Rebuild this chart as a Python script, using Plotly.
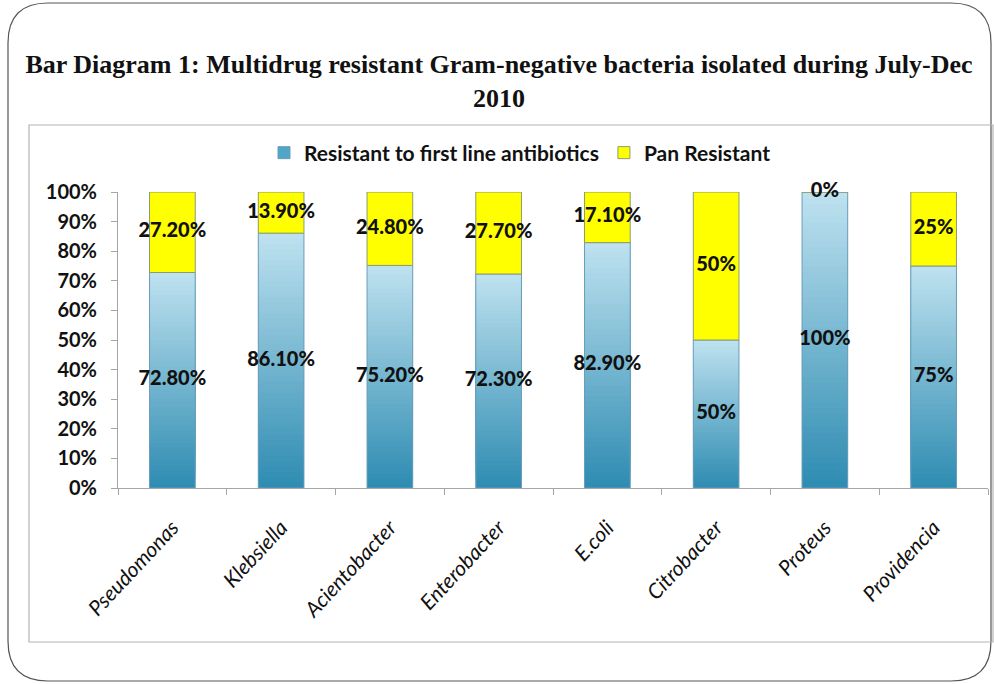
import plotly.graph_objects as go

# ---- data ----
organisms = ["Pseudomonas", "Klebsiella", "Acientobacter", "Enterobacter",
             "E.coli", "Citrobacter", "Proteus", "Providencia"]
first_line = [72.8, 86.1, 75.2, 72.3, 82.9, 50, 100, 75]
pan_resistant = [27.2, 13.9, 24.8, 27.7, 17.1, 50, 0, 25]
y_ticks = [0, 10, 20, 30, 40, 50, 60, 70, 80, 90, 100]

W, H = 994, 684
PL, PR, PT, PB = 118, 988, 192, 488  # plot area in pixels


def px(x):
    return (x - PL) / (PR - PL)


def py(y):
    return (PB - y) / (PB - PT)


def fmt(v):
    return f"{v:.0f}%" if float(v).is_integer() else f"{v:.2f}%"


def lerp(c1, c2, t):
    return "#%02x%02x%02x" % tuple(round(a + (b - a) * t) for a, b in zip(c1, c2))


DARK = (0x2f, 0x8c, 0xb2)
LIGHT = (0xbd, 0xe1, 0xef)
BAR_W = 0.42
N = 48

fig = go.Figure()

# vertical gradient fill of the blue segments: each layer starts higher and
# runs to the top of the segment, so later (lighter) layers cover the upper part
for k in range(N):
    fig.add_trace(go.Bar(
        x=organisms,
        y=[v * (N - k) / N for v in first_line],
        base=[v * k / N for v in first_line],
        width=BAR_W,
        marker=dict(color=lerp(DARK, LIGHT, k / (N - 1)), line=dict(width=0)),
        showlegend=False, hoverinfo="skip",
    ))

# outline of the blue segments
fig.add_trace(go.Bar(
    x=organisms, y=first_line, base=[0] * len(organisms), width=BAR_W,
    marker=dict(color="rgba(0,0,0,0)", line=dict(color="#6b9dbb", width=1)),
    showlegend=False, name="Resistant to first line antibiotics",
))

# legend entry for the blue series
fig.add_trace(go.Bar(
    x=[organisms[0]], y=[None], name="Resistant to first line antibiotics",
    marker=dict(color="#4fa6c8", line=dict(color="#6b9dbb", width=1)),
))

fig.add_trace(go.Bar(
    x=organisms, y=pan_resistant, base=first_line, width=BAR_W,
    name="Pan Resistant",
    marker=dict(color="#ffff00", line=dict(color="#8c9c6c", width=1)),
))

label_font = dict(family="Lato", size=20, color="#111111", weight=900)

# data labels at the middle of each segment
fig.add_trace(go.Scatter(
    x=organisms, y=[v / 2 for v in first_line], mode="text",
    text=[fmt(v) for v in first_line], textposition="middle center",
    textfont=label_font, showlegend=False, cliponaxis=False, hoverinfo="skip",
))
fig.add_trace(go.Scatter(
    x=organisms, y=[b + v / 2 for b, v in zip(first_line, pan_resistant)], mode="text",
    text=[fmt(v) for v in pan_resistant], textposition="middle center",
    textfont=label_font, showlegend=False, cliponaxis=False, hoverinfo="skip",
))

shapes = []
# outer rounded frame
x0, x1, y0, y1, r = 8, 991, 3, 681, 40


def P(x, y):
    return f"{px(x):.5f},{py(y):.5f}"


path = (f"M {P(x0 + r, y0)} L {P(x1 - r, y0)} Q {P(x1, y0)} {P(x1, y0 + r)} "
        f"L {P(x1, y1 - r)} Q {P(x1, y1)} {P(x1 - r, y1)} "
        f"L {P(x0 + r, y1)} Q {P(x0, y1)} {P(x0, y1 - r)} "
        f"L {P(x0, y0 + r)} Q {P(x0, y0)} {P(x0 + r, y0)} Z")
shapes.append(dict(type="path", xref="paper", yref="paper", path=path,
                   line=dict(color="#555555", width=1.2), layer="below"))
# chart area frame
shapes.append(dict(type="rect", xref="paper", yref="paper",
                   x0=px(29), x1=px(993), y0=py(642), y1=py(125),
                   line=dict(color="#b4b4b4", width=1.2), layer="below"))

fig.update_layout(
    width=W, height=H,
    margin=dict(l=PL, r=W - PR, t=PT, b=H - PB, pad=0),
    paper_bgcolor="white", plot_bgcolor="white",
    barmode="overlay",
    title=dict(
        text="Bar Diagram 1: Multidrug resistant Gram-negative bacteria isolated during July-Dec<br>2010",
        x=499 / W, xref="container", xanchor="center",
        y=1 - 73 / H, yanchor="middle", yref="container",
        font=dict(family="Liberation Serif", size=26, color="#111111", weight="bold"),
    ),
    legend=dict(
        orientation="h", x=px(520), xanchor="center", y=py(153), yanchor="middle",
        font=dict(family="Lato", size=21, color="#111111", weight="bold"),
        itemwidth=30, traceorder="normal", bgcolor="rgba(0,0,0,0)",
    ),
    xaxis=dict(
        type="category", categoryorder="array", categoryarray=organisms,
        showline=True, linecolor="#a6a6a6", linewidth=1,
        ticks="outside", tickson="boundaries", ticklen=6, tickcolor="#a6a6a6",
        tickangle=-47, showgrid=False, ticklabelstandoff=18,
        tickfont=dict(family="Lato", size=21, color="#111111", style="italic"),
        range=[-0.5, len(organisms) - 0.5],
    ),
    yaxis=dict(
        range=[0, 100], tickvals=y_ticks, ticktext=[f"{t}%" for t in y_ticks],
        showline=True, linecolor="#a6a6a6", linewidth=1,
        ticks="outside", ticklen=6, tickcolor="#a6a6a6", showgrid=False,
        ticklabelstandoff=10,
        tickfont=dict(family="Lato", size=20, color="#111111", weight="bold"),
        zeroline=False,
    ),
    shapes=shapes,
)

fig.write_html("out.html")
